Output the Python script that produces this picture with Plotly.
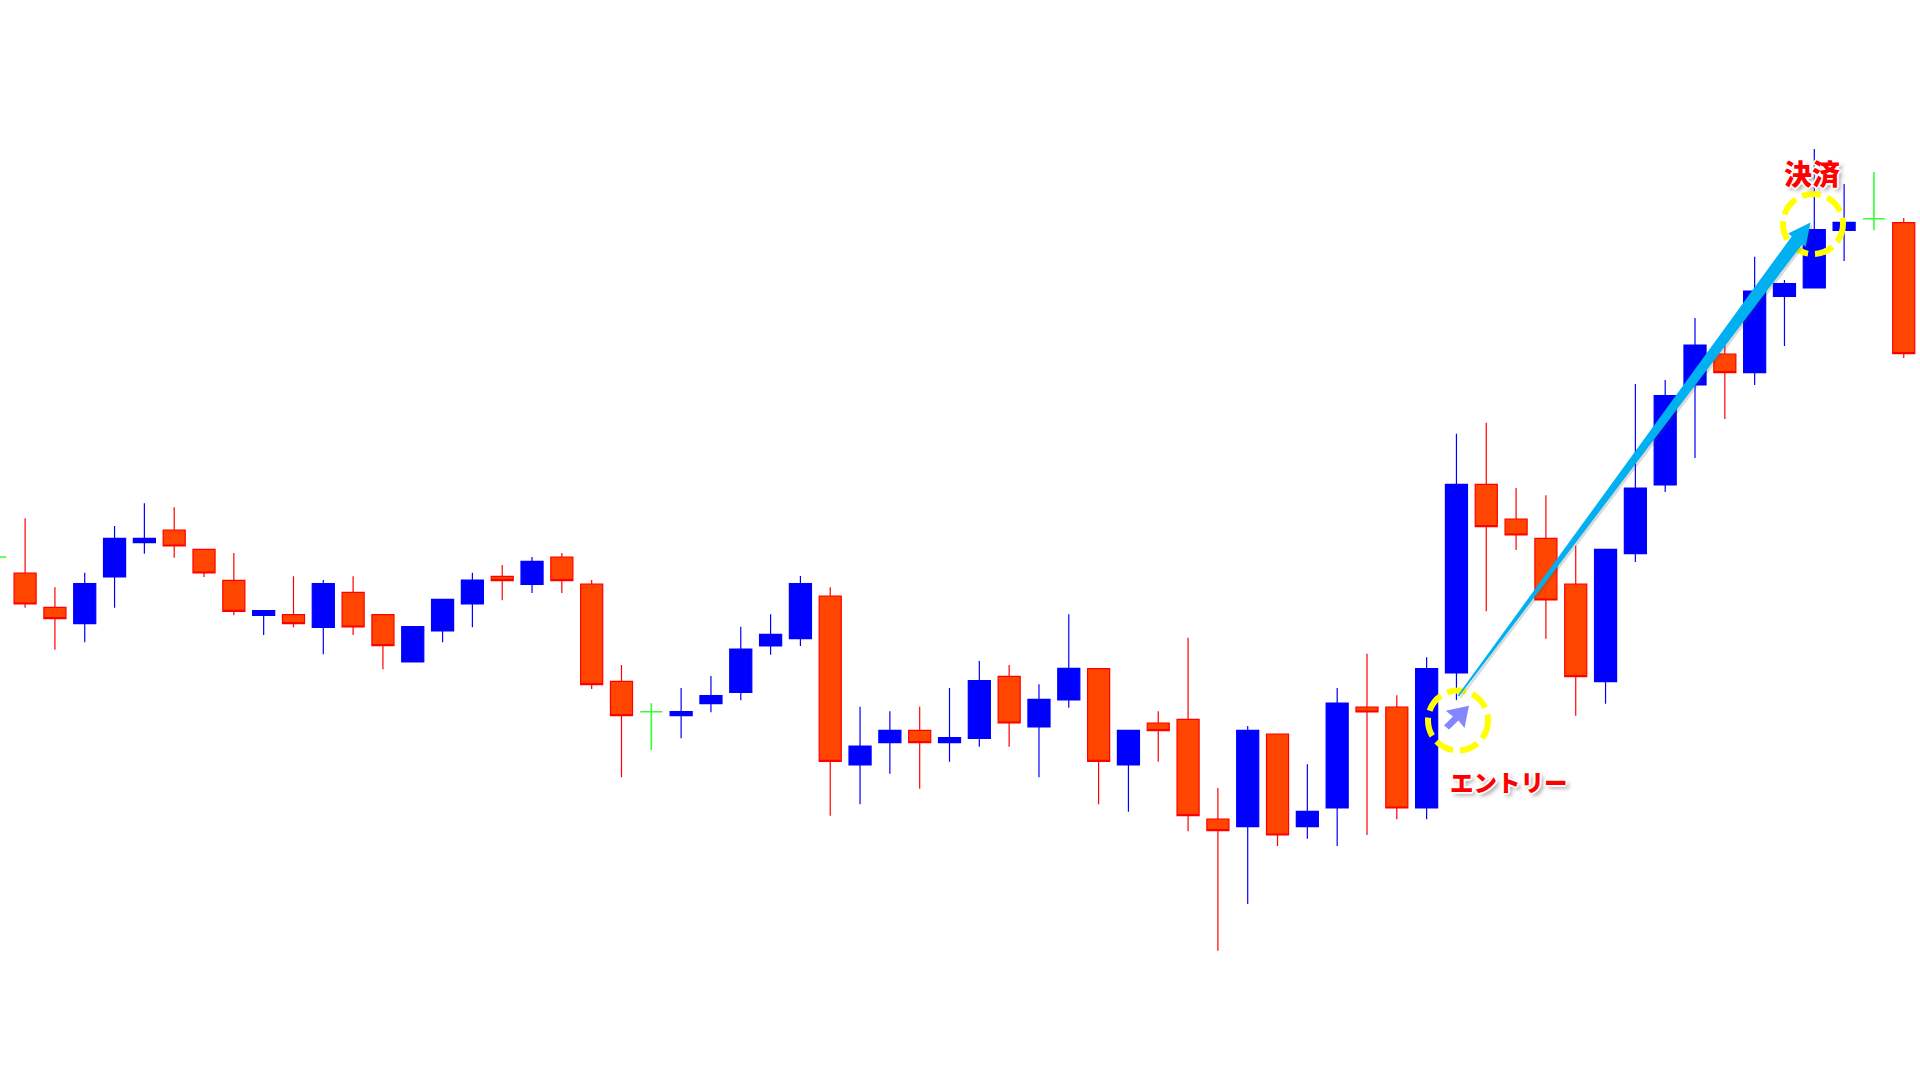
import plotly.graph_objects as go

W, H = 1920, 1080

# Candles; price = height above the chart's lower edge
index = list(range(0, 21)) + list(range(22, 62)) + [63]
opens = [
    507, 472.7, 456.3, 503, 537.3, 550, 530.7, 499.7, 464.7, 465.3,
    452.7, 487.7, 465.3, 418, 449, 476, 503.7, 495.7, 523, 496, 398.7,
    364.3, 376.3, 387.7, 434, 441.3, 484, 315, 337.3, 349.7, 337.3,
    341.7, 403.7, 353, 380, 411.3, 315, 357, 360.7, 261, 253.3,
    346, 253.3, 272, 373, 373, 272, 407, 595.7, 561, 541.7,
    496, 398.3, 526.3, 595, 695, 726, 707.3, 783.7, 792, 849.7,
    857.3,
]
highs = [
    561.7, 492.7, 507.3, 554, 576.7, 572.7, 530.7, 527, 469.3, 503.7,
    500, 503.7, 465.3, 453.3, 480.7, 507.3, 515, 523, 527, 500, 415,
    392, 404, 453.3, 465.7, 504, 492.7, 373.3, 368.7, 373.3, 392,
    419, 415, 395.7, 465.7, 411.3, 349.7, 368.7, 442.3, 292, 354,
    346, 315.7, 392, 426.3, 384.7, 422.7, 646.3, 657.3, 592, 584.7,
    534.3, 530.7, 696, 700, 762, 735, 823.3, 800, 931, 896,
    862,
]
lows = [
    472.3, 430.3, 437.7, 472.3, 526.3, 522.3, 503, 464.7, 445, 452.7,
    425.7, 445, 410.7, 418, 437.7, 452.7, 479.7, 487, 487, 391, 302.7,
    341.7, 367.7, 379.7, 425.3, 434, 264.3, 275.7, 306.3, 291.3, 318.3,
    333.3, 333.3, 302.7, 372.3, 275.7, 268.3, 318.3, 248.7, 129.3, 176,
    234, 241.3, 234, 245, 260.7, 260.7, 380, 468.7, 530, 441.3,
    364.3, 376.3, 518, 588, 622, 661, 695, 734, 792, 819,
    722,
]
closes = [
    476, 461.3, 496.3, 541.7, 541.7, 534, 507, 468.7, 469.3, 456.3,
    496.3, 453, 434.3, 453.3, 480.7, 500, 499.3, 518.7, 499.3, 395.3, 364.3,
    368.3, 384.3, 431, 445.7, 496.3, 318.7, 334, 349.7, 337.3, 342.3,
    399.3, 357, 380.7, 411.7, 318.7, 349.7, 349.3, 264.3, 249.3, 349.7,
    245, 268.7, 377, 368, 272, 411.3, 595.7, 553.3, 545, 480,
    403.3, 530.7, 592, 684.3, 735, 707.3, 789, 796.3, 850.3, 857.7,
    726.3,
]

doji_index = [-1, 21, 62]
doji_levels = [523, 368.3, 861.3]
doji_highs = [523, 376.7, 908]
doji_lows = [523, 330, 849.7]

entry_label = "エントリー"
exit_label = "決済"

BLUE = "#0000FF"
RED = "#FF0000"
ORANGE = "#FF4500"
GREEN = "#33FF33"
CYAN = "#00B0F0"
YELLOW = "#FFFF00"
ICON = "#8585FF"

fig = go.Figure()
fig.add_trace(go.Candlestick(
    x=index, open=opens, high=highs, low=lows, close=closes,
    whiskerwidth=0, hoverinfo="skip",
    increasing=dict(line=dict(color=BLUE, width=1.2), fillcolor=BLUE),
    decreasing=dict(line=dict(color=RED, width=1.2), fillcolor=ORANGE),
))
fig.add_trace(go.Candlestick(
    x=doji_index, open=doji_levels, high=doji_highs, low=doji_lows, close=doji_levels,
    whiskerwidth=0, hoverinfo="skip",
    increasing=dict(line=dict(color=GREEN, width=1.6), fillcolor=GREEN),
    decreasing=dict(line=dict(color=GREEN, width=1.6), fillcolor=GREEN),
))


def px(x, y):
    return x / W, 1 - y / H


def poly(points, **kw):
    parts = []
    for i, (x, y) in enumerate(points):
        fx, fy = px(x, y)
        parts.append(("M" if i == 0 else "L") + f"{fx:.5f},{fy:.5f}")
    return dict(type="path", xref="paper", yref="paper", layer="above",
                path=" ".join(parts) + " Z", **kw)


def ring(cx, cy, r):
    x0, y0 = px(cx - r, cy + r)
    x1, y1 = px(cx + r, cy - r)
    return dict(type="circle", xref="paper", yref="paper", layer="above",
                x0=x0, y0=y0, x1=x1, y1=y1, fillcolor="rgba(0,0,0,0)",
                line=dict(color=YELLOW, width=6, dash="19px,7px"))


arrow = [(1457.6, 695.4), (1791.8, 236.2), (1788.1, 233.5), (1810.5, 222.5),
         (1805.7, 246.7), (1802.2, 244.2), (1459.0, 696.5)]
icon = [(1469, 705.7), (1445.7, 710.7), (1453.0, 716.5), (1444, 725.5), (1449, 729.5),
        (1458.5, 720.5), (1464.5, 728)]
arrow_shadow = [(x + 2, y + 2) for x, y in arrow]
no_line = dict(width=0)

shapes = [
    ring(1458, 720.5, 30),
    ring(1813, 224, 30),
    poly(arrow_shadow, fillcolor="rgba(70,70,70,0.2)", line=no_line),
    poly(arrow, fillcolor=CYAN, line=no_line),
    poly(icon, fillcolor=ICON, line=no_line),
]

OUTLINE = ("1px 1px 0 #fff, -1px -1px 0 #fff, 1px -1px 0 #fff, -1px 1px 0 #fff, "
           "2px 0 1px #fff, -2px 0 1px #fff, 0 2px 1px #fff, 0 -2px 1px #fff, "
           "3px 3px 4px #999")


def label(text, x, y, size):
    fx, fy = px(x, y)
    return dict(text=text, x=fx, y=fy, xref="paper", yref="paper",
                xanchor="center", yanchor="middle", showarrow=False,
                font=dict(family="Noto Sans CJK JP", size=size, color=RED, weight=900, shadow=OUTLINE))


fig.update_layout(
    width=W, height=H,
    margin=dict(l=0, r=0, t=0, b=0, pad=0),
    paper_bgcolor="white", plot_bgcolor="white",
    showlegend=False,
    boxgap=0.26, boxgroupgap=0,
    xaxis=dict(range=[-0.8416, 63.545], visible=False, rangeslider=dict(visible=False), fixedrange=True),
    yaxis=dict(range=[0, 1080], visible=False, fixedrange=True),
    shapes=shapes,
    annotations=[label(entry_label, 1509, 782, 23.5), label(exit_label, 1812, 173, 28)],
)

fig.write_html(
    "out.html",
    config=dict(displayModeBar=False),
    post_script="document.body.style.margin='0';document.body.style.overflow='hidden';",
)
